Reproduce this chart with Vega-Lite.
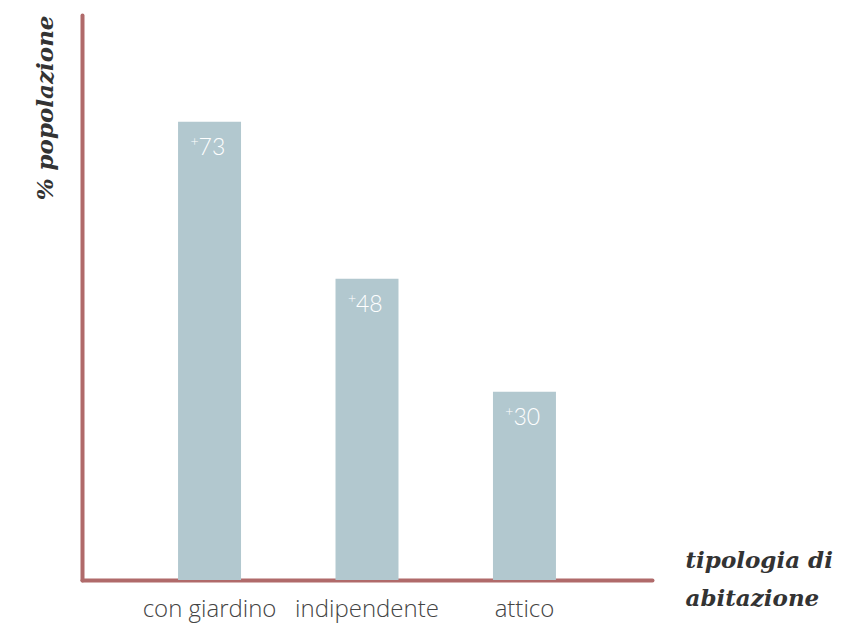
{
  "$schema": "https://vega.github.io/schema/vega-lite/v6.json",
  "autosize": {"type": "none"},
  "padding": {"left": 82, "top": 15, "right": 200, "bottom": 44},
  "width": 570,
  "height": 565,
  "background": "white",
  "config": {"view": {"stroke": null}},
  "data": {"values": [
    {"tipo": "con giardino", "valore": 73, "label": "73"},
    {"tipo": "indipendente", "valore": 48, "label": "48"},
    {"tipo": "attico", "valore": 30, "label": "30"}
  ]},
  "encoding": {
    "x": {"field": "tipo", "type": "nominal", "sort": null,
      "scale": {"paddingInner": 0.6, "paddingOuter": 0.61},
      "axis": {
        "title": ["tipologia di", "abitazione"],
        "titleX": 603, "titleY": -13, "titleAlign": "left", "titleBaseline": "alphabetic",
        "titleFont": "DejaVu Serif", "titleFontStyle": "italic", "titleFontWeight": "bold",
        "titleFontSize": 23, "titleLineHeight": 38, "titleColor": "#333333",
        "labelAngle": 0, "labelFont": "Open Sans", "labelFontWeight": 300, "labelFontSize": 24,
        "labelColor": "#444444", "labelPadding": 17,
        "ticks": false, "domainColor": "#b06a6a", "domainWidth": 4, "domainCap": "round", "grid": false
      }
    },
    "y": {"field": "valore", "type": "quantitative",
      "scale": {"domain": [0, 90], "nice": false},
      "axis": {
        "title": "% popolazione",
        "titleX": -37, "titleY": 0, "titleAngle": 270, "titleAlign": "right", "titleBaseline": "middle",
        "titleFont": "DejaVu Serif", "titleFontStyle": "italic", "titleFontWeight": "bold",
        "titleFontSize": 23, "titleColor": "#333333",
        "labels": false, "ticks": false, "grid": false,
        "domainColor": "#b06a6a", "domainWidth": 4, "domainCap": "round"
      }
    }
  },
  "layer": [
    {"mark": {"type": "bar", "color": "#b2c8cf"}},
    {"mark": {"type": "text", "color": "white", "font": "Lato", "fontWeight": 300, "fontSize": 23, "align": "left", "baseline": "alphabetic", "dx": -11, "dy": 33},
      "encoding": {"text": {"field": "label"}}},
    {"mark": {"type": "text", "color": "white", "font": "Lato", "fontWeight": 300, "fontSize": 14, "align": "right", "baseline": "alphabetic", "dx": -11, "dy": 24, "text": "+"}}
  ]
}
